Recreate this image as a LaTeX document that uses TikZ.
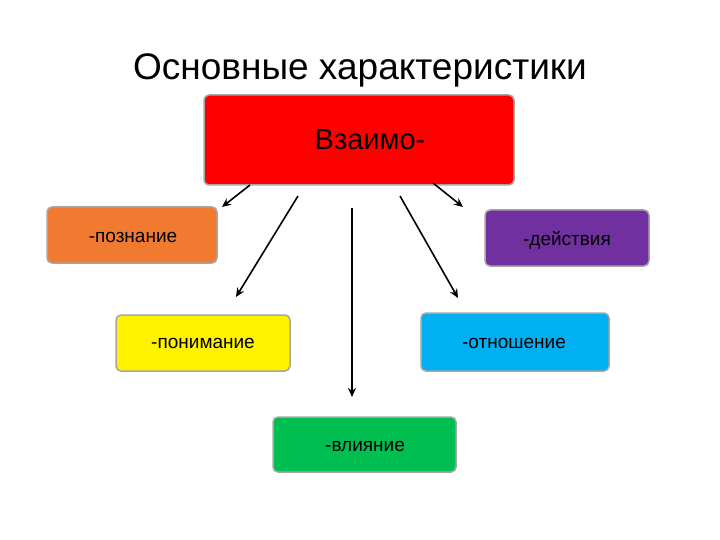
\documentclass[tikz,border=0pt]{standalone}
\usepackage{fontspec}
\setmainfont{Liberation Sans}
\usetikzlibrary{arrows.meta}
\begin{document}
\begin{tikzpicture}[x=1pt,y=-1pt,
 box/.style={draw=black!35,line width=1.5pt,rounded corners=5pt,inner sep=0pt},
 lbl/.style={font=\fontsize{19}{22}\selectfont},
 arr/.style={-{Stealth[length=9pt,width=8pt]},line width=1.6pt}]
\useasboundingbox (0,0) rectangle (720,540);
\node[font=\fontsize{37}{42}\selectfont] (title) at (360,70) {Основные характеристики};
\path[box,fill=red] (204,95) rectangle (514,185);
\node[font=\fontsize{29}{32}\selectfont] (vz) at (370,140) {Взаимо-};
\path[box,fill={rgb,255:red,240;green,122;blue,48}] (47,207) rectangle (217,263);
\node[lbl] (poz) at (133,237) {-познание};
\path[box,fill={rgb,255:red,112;green,48;blue,160}] (485,210) rectangle (649,266);
\node[lbl] (dei) at (567,240) {-действия};
\path[box,fill=yellow] (116,315) rectangle (290,371);
\node[lbl] (pon) at (203,343) {-понимание};
\path[box,fill={rgb,255:red,0;green,176;blue,240}] (421,313) rectangle (609,371);
\node[lbl] (otn) at (514,343) {-отношение};
\path[box,fill={rgb,255:red,0;green,190;blue,80}] (273,417) rectangle (456,472);
\node[lbl] (vli) at (365,446) {-влияние};
\coordinate (s1) at (250,185); \coordinate (e1) at (222,207);
\coordinate (s2) at (433,183); \coordinate (e2) at (463,207);
\coordinate (s3) at (298,196); \coordinate (e3) at (236,297);
\coordinate (s4) at (400,196); \coordinate (e4) at (458,298);
\coordinate (s5) at (352,208); \coordinate (e5) at (352,397);
\draw[arr] (s1) -- (e1);
\draw[arr] (s2) -- (e2);
\draw[arr] (s3) -- (e3);
\draw[arr] (s4) -- (e4);
\draw[arr] (s5) -- (e5);
\end{tikzpicture}
\end{document}
